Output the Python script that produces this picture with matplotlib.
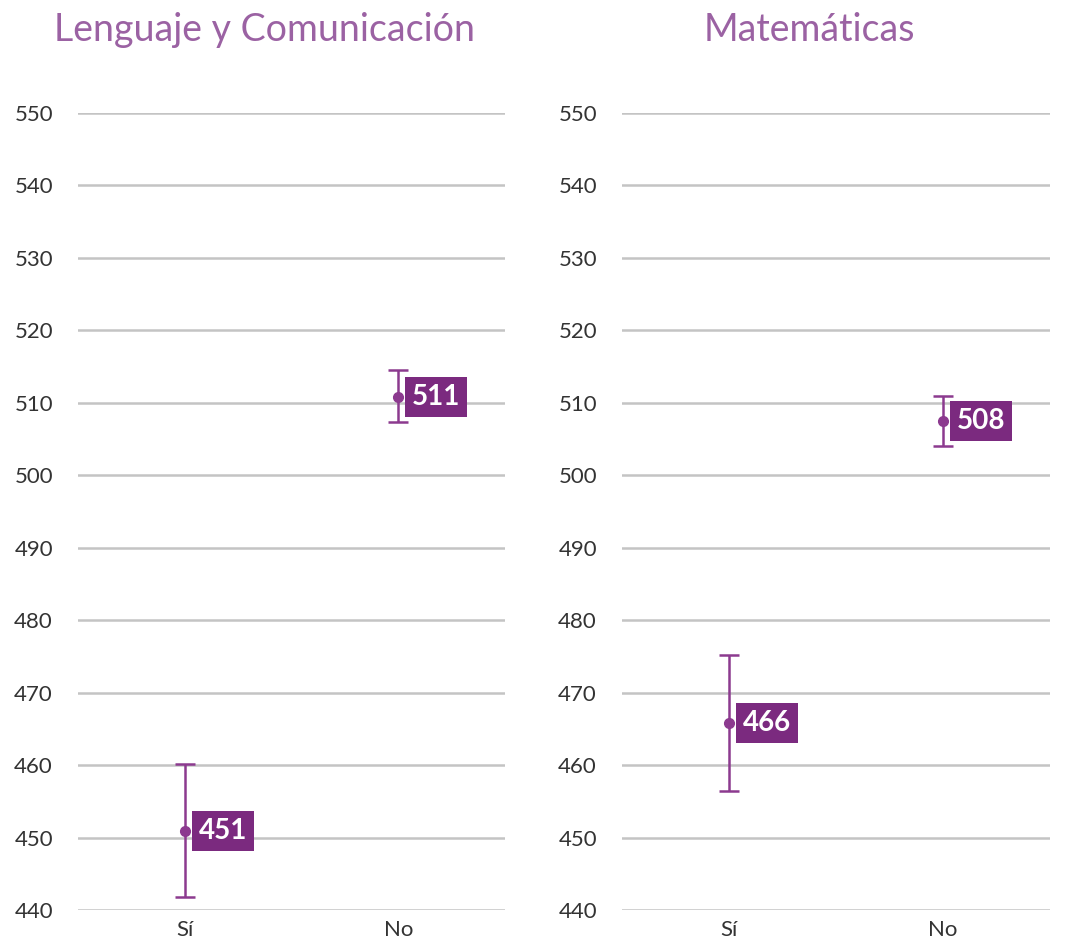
import matplotlib.pyplot as plt

# Datos
categorias = ['Sí', 'No']
titulos = ['Lenguaje y Comunicación', 'Matemáticas']
lenguaje_inf = [441.8, 507.4]
lenguaje_sup = [460.1, 514.5]
matematica_inf = [456.4, 504.0]
matematica_sup = [475.2, 510.9]
etiquetas_lenguaje = ['451', '511']
etiquetas_matematica = ['466', '508']

# valores de los puntos (ligeramente distintos del redondeo)
lenguaje_punto = [450.9, 510.8]
matematica_punto = [465.8, 507.5]

morado = '#8c3a8f'
morado_caja = '#7b2a7f'
titulo_color = '#9b62a3'
gris = '#c4c4c4'
texto = '#333333'

plt.rcParams['font.family'] = ['Lato', 'DejaVu Sans']

fig = plt.figure(figsize=(10.81, 9.46), dpi=100)
posiciones = [[78 / 1081, 0.038, 427 / 1081, 0.8426],
              [622 / 1081, 0.038, 428 / 1081, 0.8426]]
centros_titulo = [265 / 1081, 809 / 1081]

series = [
    (lenguaje_punto, lenguaje_inf, lenguaje_sup, etiquetas_lenguaje),
    (matematica_punto, matematica_inf, matematica_sup, etiquetas_matematica),
]

for i, (pos, (medias, inf, sup, etiquetas)) in enumerate(zip(posiciones, series)):
    ax = fig.add_axes(pos)
    x = list(range(len(categorias)))
    err_bajo = [m - a for m, a in zip(medias, inf)]
    err_alto = [b - m for m, b in zip(medias, sup)]
    ax.errorbar(x, medias, yerr=[err_bajo, err_alto], fmt='o', color=morado,
                markersize=7, elinewidth=1.8, capsize=7, capthick=1.8, zorder=3)
    for xi, m, lab in zip(x, medias, etiquetas):
        ax.annotate(lab, (xi, m), xytext=(10, 0), textcoords='offset points',
                    ha='left', va='center', color='white', fontsize=20,
                    fontweight='bold',
                    bbox=dict(boxstyle='square,pad=0.25', fc=morado_caja,
                              ec='none'), zorder=4)
    ax.set_xlim(-0.5, 1.5)
    ax.set_ylim(440, 550)
    ax.set_yticks(range(440, 551, 10))
    ax.set_xticks(x)
    ax.set_xticklabels(categorias)
    ax.yaxis.grid(True, color=gris, linewidth=1.8)
    ax.set_axisbelow(True)
    for s in ax.spines.values():
        s.set_visible(False)
    ax.tick_params(axis='both', length=0, labelsize=16, colors=texto)
    ax.tick_params(axis='y', pad=18)
    ax.tick_params(axis='x', pad=7)
    fig.text(centros_titulo[i], 0.968, titulos[i], ha='center', va='center',
             fontsize=27, color=titulo_color)

plt.savefig('out.png', dpi=100)
